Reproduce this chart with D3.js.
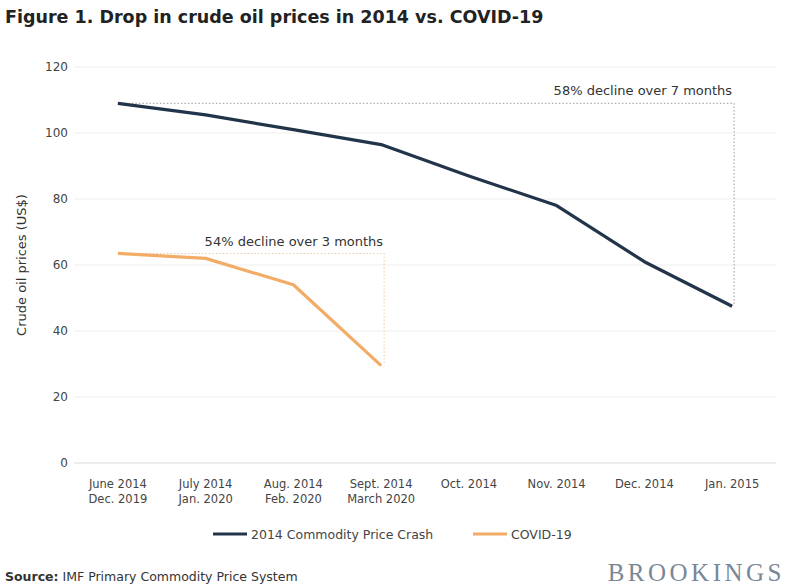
<!DOCTYPE html>
<html>
<head>
<meta charset="utf-8">
<script src="https://cdn.jsdelivr.net/npm/d3@7/dist/d3.min.js"></script>
<style>
  html, body { margin: 0; padding: 0; background: #fff; }
  svg { display: block; font-family: "DejaVu Sans", Verdana, sans-serif; }
</style>
</head>
<body>
<svg id="chart" width="791" height="588"></svg>
<script>
// Month labels: first row is the 2014 crash, second row the COVID-19 period
const months2014 = ["June 2014", "July 2014", "Aug. 2014", "Sept. 2014", "Oct. 2014", "Nov. 2014", "Dec. 2014", "Jan. 2015"];
const monthsCovid = ["Dec. 2019", "Jan. 2020", "Feb. 2020", "March 2020"];

// Crude oil prices, US$ per barrel
const crash2014 = [109, 105.5, 101, 96.5, 87, 78, 61, 47.5];
const covid19 = [63.5, 62, 54, 29.5];

const yTicks = [0, 20, 40, 60, 80, 100, 120];

const seriesNames = ["2014 Commodity Price Crash", "COVID-19"];
const notes = ["58% decline over 7 months", "54% decline over 3 months"];

const blue = "#22344a";
const orange = "#f2ac66";
const textCol = "#444";

const svg = d3.select("#chart");

const x = d3.scalePoint().domain(d3.range(months2014.length)).range([74, 776]).padding(0.5);
const y = d3.scaleLinear().domain([0, 120]).range([463, 67]);

// Title
svg.append("text")
  .attr("x", 5).attr("y", 23)
  .attr("font-size", 17.5).attr("font-weight", "bold").attr("fill", "#222")
  .text("Figure 1. Drop in crude oil prices in 2014 vs. COVID-19");

// Gridlines and y tick labels
svg.append("g").selectAll("line")
  .data(yTicks.filter(d => d > 0))
  .join("line")
  .attr("x1", 74).attr("x2", 776)
  .attr("y1", d => y(d)).attr("y2", d => y(d))
  .attr("stroke", "#efefef").attr("stroke-width", 1);

svg.append("line")
  .attr("x1", 74).attr("x2", 776).attr("y1", y(0)).attr("y2", y(0))
  .attr("stroke", "#d9d9d9").attr("stroke-width", 1);

const yAxis = d3.axisLeft(y).tickValues(yTicks).tickSize(0).tickPadding(0);
const gy = svg.append("g").attr("transform", "translate(68,0)").call(yAxis);
gy.select(".domain").remove();
gy.selectAll("text").attr("font-size", 12).attr("fill", textCol)
  .attr("font-family", "'DejaVu Sans', Verdana, sans-serif");

// Y axis title
svg.append("text")
  .attr("transform", `translate(26,${(y(0) + y(120)) / 2}) rotate(-90)`)
  .attr("text-anchor", "middle").attr("font-size", 13).attr("fill", "#333")
  .text("Crude oil prices (US$)");

// X labels (two rows)
const xl = svg.append("g").attr("font-size", 11.5).attr("fill", textCol).attr("text-anchor", "middle");
xl.selectAll("text.r1").data(months2014).join("text")
  .attr("class", "r1").attr("x", (d, i) => x(i)).attr("y", 488).text(d => d);
xl.selectAll("text.r2").data(monthsCovid).join("text")
  .attr("class", "r2").attr("x", (d, i) => x(i)).attr("y", 503).text(d => d);

// Dotted reference lines for the declines
const dots = svg.append("g").attr("fill", "none").attr("stroke", "#9a9a9a")
  .attr("stroke-width", 1).attr("stroke-dasharray", "1.5,2");

const nB = crash2014.length - 1;
dots.append("path").attr("d", d3.line()([
  [x(0), y(crash2014[0])], [x(nB) + 2, y(crash2014[0])], [x(nB) + 2, y(crash2014[nB])]
]));
const nC = covid19.length - 1;
dots.append("path").attr("stroke", "#e8c9a8").attr("d", d3.line()([
  [x(0), y(covid19[0])], [x(nC) + 3, y(covid19[0])], [x(nC) + 3, y(covid19[nC])]
]));

// Series lines
const line = d3.line().x((d, i) => x(i)).y(d => y(d));
svg.append("path").datum(crash2014).attr("d", line)
  .attr("fill", "none").attr("stroke", blue).attr("stroke-width", 3.2).attr("stroke-linejoin", "round");
svg.append("path").datum(covid19).attr("d", line)
  .attr("fill", "none").attr("stroke", orange).attr("stroke-width", 3.2).attr("stroke-linejoin", "round");

// Decline notes
svg.append("text").attr("x", x(nB)).attr("y", 95).attr("text-anchor", "end")
  .attr("font-size", 13).attr("fill", "#333").text(notes[0]);
svg.append("text").attr("x", x(nC) + 2).attr("y", 246).attr("text-anchor", "end")
  .attr("font-size", 13).attr("fill", "#333").text(notes[1]);

// Legend
const leg = svg.append("g").attr("font-size", 12.5).attr("fill", textCol);
[[213, blue], [473, orange]].forEach(([lx, c], i) => {
  leg.append("line").attr("x1", lx).attr("x2", lx + 34).attr("y1", 534).attr("y2", 534)
    .attr("stroke", c).attr("stroke-width", 3);
  leg.append("text").attr("x", lx + 38).attr("y", 538.5).text(seriesNames[i]);
});

// Source note
const src = svg.append("text").attr("x", 5).attr("y", 581).attr("font-size", 12.5).attr("fill", "#333");
src.append("tspan").attr("font-weight", "bold").text("Source:");
src.append("tspan").text(" IMF Primary Commodity Price System");

// Brookings wordmark
svg.append("text").attr("x", 785).attr("y", 581).attr("text-anchor", "end")
  .attr("font-family", "Liberation Serif, 'DejaVu Serif', serif").attr("font-size", 25)
  .attr("letter-spacing", 3.5).attr("fill", "#7a8796").text("BROOKINGS");
</script>
</body>
</html>
